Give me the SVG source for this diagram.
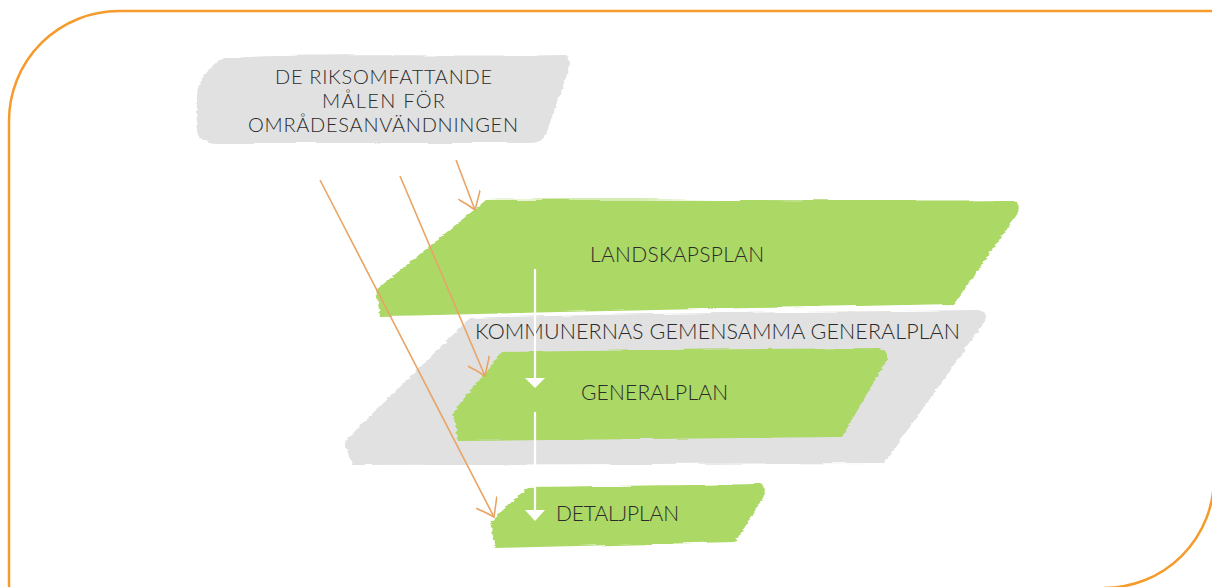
<svg xmlns="http://www.w3.org/2000/svg" width="1212" height="587" viewBox="0 0 1212 587">
<style>
.t{font-family:Lato,"Open Sans","Liberation Sans",sans-serif;font-weight:300;fill:#2b2b2b}
.green{fill:#ACD865}
.gray{fill:#E1E1E1}
.oarr{stroke:#E9A465;stroke-width:1.6;fill:none;marker-end:url(#oh)}
.wline{stroke:#ffffff;stroke-width:2.2;fill:none}
.whead{fill:#ffffff}
</style>
<defs>
<filter id="rough" x="-5%" y="-10%" width="110%" height="120%">
<feTurbulence type="fractalNoise" baseFrequency="0.015 0.35" numOctaves="2" seed="3"/>
<feDisplacementMap in="SourceGraphic" scale="4" xChannelSelector="R" yChannelSelector="G"/>
</filter>
<marker id="oh" viewBox="0 0 24 24" refX="21" refY="12" markerWidth="24" markerHeight="24" markerUnits="userSpaceOnUse" orient="auto">
<path d="M4,0 Q14,7 21,12 Q13,17 5,24" stroke="#E9A465" stroke-width="1.6" fill="none"/>
</marker>
</defs>
<path d="M9,590 V121 A110,110 0 0 1 119,11 H1214 V478 A110,110 0 0 1 1104,588" fill="none" stroke="#F59B2C" stroke-width="2.5"/>
<g id="node-riks">
<path class="gray" filter="url(#rough)" d="M224,58 C320,53 470,57 560,55 Q573,56 569,69 L546,134 Q542,143 530,143 L216,143 Q196,142 197,128 L197,92 Q201,72 224,58 Z"/>
<text class="t" font-size="20" x="275" y="84" textLength="217" lengthAdjust="spacing">DE RIKSOMFATTANDE</text>
<text class="t" font-size="20" x="322" y="108" textLength="123" lengthAdjust="spacing">MÅLEN FÖR</text>
<text class="t" font-size="20" x="248" y="132" textLength="270" lengthAdjust="spacing">OMRÅDESANVÄNDNINGEN</text>
</g>
<g id="node-kommun">
<path class="gray" filter="url(#rough)" d="M470,318 C640,313 820,312 978,310 Q990,312 984,323 L884,463 L352,465 L344,442 Z"/>
<text class="t" font-size="21.5" x="475" y="339" textLength="485" lengthAdjust="spacing">KOMMUNERNAS GEMENSAMMA GENERALPLAN</text>
</g>
<g id="node-landskap">
<path class="green" filter="url(#rough)" d="M486,200 C650,198 850,202 1012,200 Q1023,204 1016,216 L954,304 C760,308 560,312 380,316 L376,290 Z"/>
<text class="t" font-size="21" x="590" y="262" textLength="174" lengthAdjust="spacing">LANDSKAPSPLAN</text>
</g>
<g id="node-general">
<path class="green" filter="url(#rough)" d="M502,352 C640,350 760,349 880,348 Q891,352 885,363 L842,437 L458,441 L453,412 Z"/>
<text class="t" font-size="21" x="581" y="400" textLength="147" lengthAdjust="spacing">GENERALPLAN</text>
</g>
<g id="node-detalj">
<path class="green" filter="url(#rough)" d="M528,487 C600,486 690,485 760,484 Q769,488 764,498 L735,542 L496,548 L490,522 Z"/>
<text class="t" font-size="21" x="556" y="521" textLength="123" lengthAdjust="spacing">DETALJPLAN</text>
</g>
<g id="connectors">
<line class="wline" x1="535" y1="269" x2="535" y2="380"/>
<polygon class="whead" points="525,378 545,378 535,388"/>
<line class="wline" x1="535" y1="412" x2="535" y2="512"/>
<polygon class="whead" points="525,510 545,510 535,521"/>
<line class="oarr" x1="456" y1="160" x2="475" y2="210"/>
<line class="oarr" x1="400" y1="176" x2="485" y2="376"/>
<line class="oarr" x1="320" y1="180" x2="494" y2="517"/>
</g>
</svg>
